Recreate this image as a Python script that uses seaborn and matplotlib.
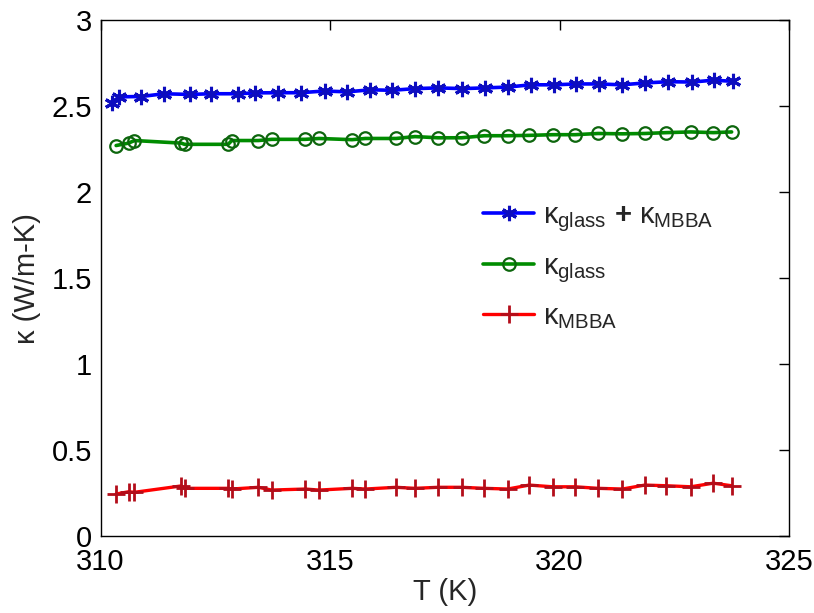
import numpy as np
import pandas as pd
import matplotlib
matplotlib.use("Agg")
import matplotlib.pyplot as plt
import seaborn as sns

# Measured temperatures (K) for glass and MBBA contributions
T_meas = [310.34, 310.61, 310.74, 311.76, 311.83, 312.78, 312.86, 313.44, 313.73,
          314.46, 314.76, 315.48, 315.77, 316.44, 316.85, 317.35, 317.87, 318.36,
          318.87, 319.34, 319.85, 320.34, 320.84, 321.37, 321.86, 322.33, 322.86,
          323.35, 323.75]
# Temperatures (K) for the summed conductivity
T_sum = [310.25, 310.40, 310.89, 311.38, 311.94, 312.40, 313.00, 313.36, 313.87,
         314.36, 314.88, 315.37, 315.88, 316.35, 316.86, 317.35, 317.88, 318.37,
         318.88, 319.37, 319.89, 320.36, 320.85, 321.36, 321.87, 322.37, 322.89,
         323.36, 323.78]

k_sum = [2.52, 2.556, 2.558, 2.574, 2.570, 2.574, 2.574, 2.579, 2.580,
         2.580, 2.590, 2.585, 2.597, 2.594, 2.604, 2.608, 2.604, 2.608,
         2.613, 2.626, 2.626, 2.631, 2.631, 2.626, 2.637, 2.644, 2.642,
         2.653, 2.646]
k_glass = [2.273, 2.287, 2.302, 2.287, 2.280, 2.280, 2.302, 2.302, 2.309,
           2.309, 2.314, 2.307, 2.314, 2.314, 2.325, 2.318, 2.318, 2.330,
           2.330, 2.332, 2.336, 2.336, 2.343, 2.341, 2.343, 2.348, 2.352,
           2.348, 2.352]
k_mbba = [0.247, 0.260, 0.257, 0.294, 0.280, 0.280, 0.276, 0.286, 0.270,
          0.276, 0.270, 0.280, 0.276, 0.286, 0.280, 0.286, 0.286, 0.280,
          0.276, 0.299, 0.289, 0.289, 0.280, 0.276, 0.299, 0.295, 0.289,
          0.310, 0.295]

labels = [r"$\kappa_{\mathrm{glass}}$ $\mathbf{+}$ $\kappa_{\mathrm{MBBA}}$",
          r"$\kappa_{\mathrm{glass}}$",
          r"$\kappa_{\mathrm{MBBA}}$"]

sns.set_theme(style="white")
plt.rcParams["font.family"] = ["Liberation Sans", "DejaVu Sans"]
plt.rcParams["mathtext.fontset"] = "custom"
plt.rcParams["mathtext.rm"] = "Liberation Sans"
plt.rcParams["mathtext.it"] = "Liberation Sans"
plt.rcParams["mathtext.bf"] = "Liberation Sans:bold"

fig = plt.figure(figsize=(8.14, 6.13), dpi=100)
ax = fig.add_axes([0.1235, 0.1248, 0.8458, 0.8418])

df_sum = pd.DataFrame({"T": T_sum, "k": k_sum})
df_glass = pd.DataFrame({"T": T_meas, "k": k_glass})
df_mbba = pd.DataFrame({"T": T_meas, "k": k_mbba})

sns.lineplot(data=df_sum, x="T", y="k", ax=ax, color=(0, 0, 1), lw=2.6,
             marker=(6, 2, 0), markersize=11, markeredgewidth=2.2,
             markeredgecolor=(0.05, 0.05, 0.75), label=labels[0], sort=False)
sns.lineplot(data=df_glass, x="T", y="k", ax=ax, color=(0, 0.55, 0), lw=2.6,
             marker="o", markersize=9, markeredgewidth=1.6,
             markerfacecolor="none", markeredgecolor=(0.05, 0.4, 0.05),
             label=labels[1], sort=False)
sns.lineplot(data=df_mbba, x="T", y="k", ax=ax, color=(1, 0, 0), lw=2.4,
             marker="+", markersize=13, markeredgewidth=2.0,
             markeredgecolor=(0.7, 0.05, 0.1), label=labels[2], sort=False)

ax.set_xlim(310, 325)
ax.set_ylim(0, 3)
ax.set_xticks([310, 315, 320, 325])
ax.set_yticks([0, 0.5, 1, 1.5, 2, 2.5, 3])
ax.set_yticklabels(["0", "0.5", "1", "1.5", "2", "2.5", "3"])
ax.tick_params(direction="in", length=7, width=1, top=True, right=True,
               labelsize=21, colors="black", pad=6)
ax.tick_params(axis="x", pad=8)
for s in ax.spines.values():
    s.set_color("black")
    s.set_linewidth(1.0)
ax.set_xlabel("T (K)", fontsize=21, labelpad=2)
ax.set_ylabel("κ (W/m-K)", fontsize=21, labelpad=8)

leg = ax.legend(loc="upper left", bbox_to_anchor=(0.518, 0.70), frameon=False,
                fontsize=21, handlelength=1.75, handletextpad=0.3,
                labelspacing=0.6)

fig.savefig("out.png", dpi=100, facecolor="white")
